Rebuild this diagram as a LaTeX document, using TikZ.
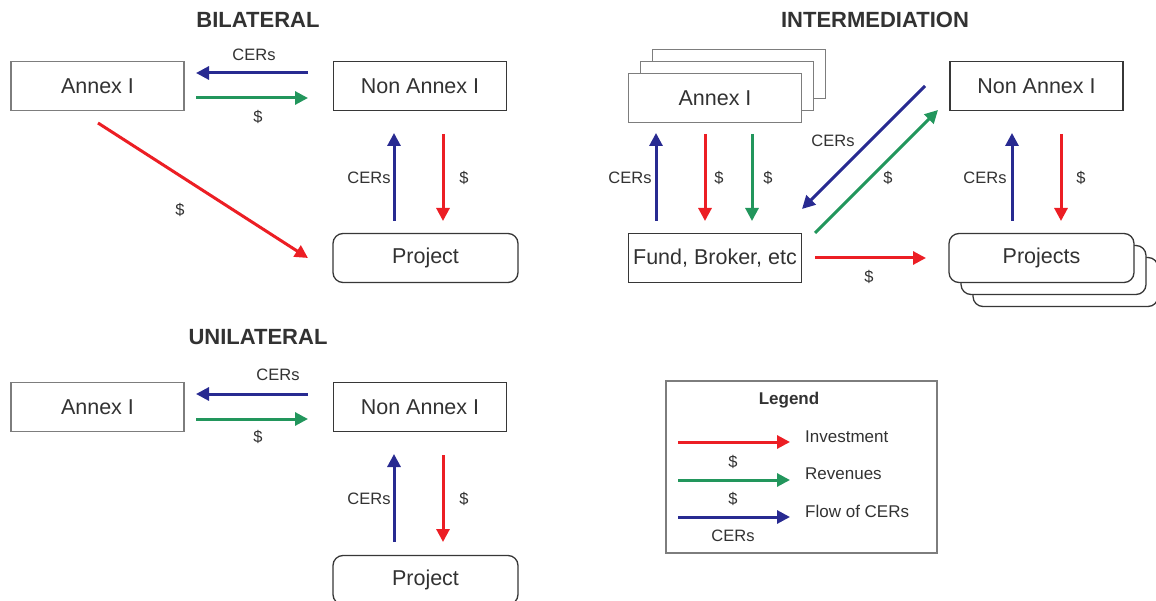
\documentclass[tikz,border=0pt]{standalone}
\usepackage{fontspec}
\setmainfont{Liberation Sans}
\usetikzlibrary{arrows.meta}
\definecolor{redA}{RGB}{236,30,36}
\definecolor{greenA}{RGB}{34,150,92}
\definecolor{blueA}{RGB}{40,42,145}
\definecolor{txt}{RGB}{50,50,50}
\definecolor{lightedge}{RGB}{125,125,125}
\definecolor{darkedge}{RGB}{55,55,55}

\begin{document}
\begin{tikzpicture}[x=1pt,y=-1pt,
  box/.style={draw=#1, line width=1.3pt, fill=white, minimum width=173pt,
    minimum height=49pt, inner sep=0pt, text=txt, font=\fontsize{21.5}{25}\selectfont},
  box/.default=darkedge,
  rbox/.style={box, rounded corners=10pt, minimum width=185pt},
  arr/.style={line width=3pt, -{Triangle[length=13pt,width=13pt]}},
  lab/.style={text=txt, font=\fontsize{16.5}{19}\selectfont, inner sep=0pt},
  title/.style={text=txt, font=\bfseries\fontsize{22}{26}\selectfont, inner sep=0pt},
  legtext/.style={text=txt, font=\fontsize{17}{20}\selectfont, inner sep=0pt, anchor=west}]

\useasboundingbox (0,0) rectangle (1156,601);
\clip (0,0) rectangle (1156,601);

% ---------------- Bilateral ----------------
\node[title] (tB) at (258,20) {BILATERAL};
\node[box=lightedge] (bA) at (97.5,86) {Annex I};
\node[box] (bN) at (420,86) {Non Annex I};
\node[rbox] (bP) at (425.5,258) {Project};

\coordinate (b1s) at (308,73);  \coordinate (b1e) at (196,73);
\coordinate (b2s) at (196,98);  \coordinate (b2e) at (308,98);
\coordinate (b3s) at (98,123);  \coordinate (b3e) at (308,258);
\coordinate (b4s) at (394,221); \coordinate (b4e) at (394,133);
\coordinate (b5s) at (443,134); \coordinate (b5e) at (443,221);
\draw[arr, blueA]  (b1s) -- (b1e);
\draw[arr, greenA] (b2s) -- (b2e);
\draw[arr, redA]   (b3s) -- (b3e);
\draw[arr, blueA]  (b4s) -- (b4e);
\draw[arr, redA]   (b5s) -- (b5e);
\node[lab] (lb1) at (254,55)  {CERs};
\node[lab] (lb2) at (258,117) {\$};
\node[lab] (lb3) at (180,210) {\$};
\node[lab] (lb4) at (369,178) {CERs};
\node[lab] (lb5) at (464,178) {\$};

% ---------------- Intermediation ----------------
\node[title] (tI) at (875,20) {INTERMEDIATION};
\node[box=lightedge] (iA3) at (739,74) {};
\node[box=lightedge] (iA2) at (727,86) {};
\node[box=lightedge] (iA)  at (715,98) {Annex I};
\node[box] (iN) at (1036.5,86) {Non Annex I};
\node[box] (iF) at (715,258) {Fund, Broker, etc};
\node[rbox] (iP3) at (1065.5,282) {};
\node[rbox] (iP2) at (1053.5,270) {};
\node[rbox] (iP)  at (1041.5,258) {Projects};

\coordinate (i1s) at (656,221);  \coordinate (i1e) at (656,133);
\coordinate (i2s) at (705,134);  \coordinate (i2e) at (705,221);
\coordinate (i3s) at (752,134);  \coordinate (i3e) at (752,221);
\coordinate (i4s) at (925,86);   \coordinate (i4e) at (802,209);
\coordinate (i5s) at (815,233);  \coordinate (i5e) at (938,110);
\coordinate (i6s) at (815,258);  \coordinate (i6e) at (926,258);
\coordinate (i7s) at (1012,221); \coordinate (i7e) at (1012,133);
\coordinate (i8s) at (1061,134); \coordinate (i8e) at (1061,221);
\draw[arr, blueA]  (i1s) -- (i1e);
\draw[arr, redA]   (i2s) -- (i2e);
\draw[arr, greenA] (i3s) -- (i3e);
\draw[arr, blueA]  (i4s) -- (i4e);
\draw[arr, greenA] (i5s) -- (i5e);
\draw[arr, redA]   (i6s) -- (i6e);
\draw[arr, blueA]  (i7s) -- (i7e);
\draw[arr, redA]   (i8s) -- (i8e);
\node[lab] (li1) at (630,178)  {CERs};
\node[lab] (li2) at (719,178)  {\$};
\node[lab] (li3) at (768,178)  {\$};
\node[lab] (li4) at (833,141)  {CERs};
\node[lab] (li5) at (888,178)  {\$};
\node[lab] (li6) at (869,277)  {\$};
\node[lab] (li7) at (985,178)  {CERs};
\node[lab] (li8) at (1081,178) {\$};

% ---------------- Unilateral ----------------
\node[title] (tU) at (258,337) {UNILATERAL};
\node[box=lightedge] (uA) at (97.5,407) {Annex I};
\node[box] (uN) at (420,407) {Non Annex I};
\node[rbox] (uP) at (425.5,580) {Project};

\coordinate (u1s) at (308,394);  \coordinate (u1e) at (196,394);
\coordinate (u2s) at (196,419);  \coordinate (u2e) at (308,419);
\coordinate (u4s) at (394,542);  \coordinate (u4e) at (394,454);
\coordinate (u5s) at (443,455);  \coordinate (u5e) at (443,542);
\draw[arr, blueA]  (u1s) -- (u1e);
\draw[arr, greenA] (u2s) -- (u2e);
\draw[arr, blueA]  (u4s) -- (u4e);
\draw[arr, redA]   (u5s) -- (u5e);
\node[lab] (lu1) at (278,375) {CERs};
\node[lab] (lu2) at (258,437) {\$};
\node[lab] (lu4) at (369,499) {CERs};
\node[lab] (lu5) at (464,499) {\$};

% ---------------- Legend ----------------
\node[draw=lightedge, line width=1.1pt, minimum width=271pt, minimum height=172pt,
  inner sep=0pt] (leg) at (801.5,467) {};
\node[text=txt, font=\bfseries\fontsize{17}{20}\selectfont, inner sep=0pt] (legT) at (789,400) {Legend};
\coordinate (g1s) at (678,442); \coordinate (g1e) at (790,442);
\coordinate (g2s) at (678,480); \coordinate (g2e) at (790,480);
\coordinate (g3s) at (678,517); \coordinate (g3e) at (790,517);
\draw[arr, redA]   (g1s) -- (g1e);
\draw[arr, greenA] (g2s) -- (g2e);
\draw[arr, blueA]  (g3s) -- (g3e);
\node[legtext] (g1t) at (805,437) {Investment};
\node[legtext] (g2t) at (805,474) {Revenues};
\node[legtext] (g3t) at (805,511) {Flow of CERs};
\node[lab] (g2l) at (733,462) {\$};
\node[lab] (g3l) at (733,499) {\$};
\node[lab] (g4l) at (733,536) {CERs};
\end{tikzpicture}
\end{document}
